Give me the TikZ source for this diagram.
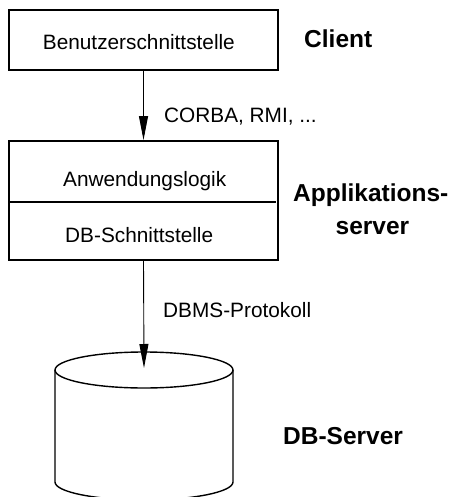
\documentclass[tikz,border=0pt]{standalone}
\usepackage{fontspec}
\setmainfont{Liberation Sans}
\usetikzlibrary{arrows.meta}
\tikzset{
  box/.style={draw, line width=1.8pt, minimum width=269pt, inner sep=0pt},
  lbl/.style={anchor=base west, inner sep=0pt, font=\fontsize{20.8}{24}\selectfont},
  tier/.style={anchor=base west, inner sep=0pt, font=\fontsize{24.5}{28}\selectfont\bfseries},
  conn/.style={line width=0.9pt, -{Triangle[length=24pt,width=9pt]}},
  cyl/.style={line width=1.4pt}
}
\begin{document}
\begin{tikzpicture}[x=1pt,y=-1pt]
\useasboundingbox (0,0) rectangle (452,497);
% client
\node[box, minimum height=60pt] (client) at (143.5,40) {};
\node[lbl] (clienttext) at (42.7,50) {Benutzerschnittstelle};
\node[tier] (clientlbl) at (304,47.7) {Client};
% application server
\node[box, minimum height=119pt] (app) at (143.5,200.5) {};
\coordinate (divl) at (9,202);
\coordinate (divr) at (276,202);
\draw[line width=1.8pt] (divl) -- (divr);
\node[lbl] (logic) at (63,186) {Anwendungslogik};
\node[lbl] (dbif) at (65,242.7) {DB-Schnittstelle};
\node[tier] (applbl1) at (293,201.5) {Applikations-};
\node[tier, anchor=base] (applbl2) at (372.5,234) {server};
% connector 1
\draw[conn] (client.south) -- (app.north);
\node[lbl] (corba) at (164,123) {CORBA, RMI, ...};
% DB cylinder
\coordinate (dbtop) at (144,368);
\draw[cyl] (55,370) -- (55,482) arc[start angle=180, end angle=360, x radius=89, y radius=-18] -- (233,370);
\draw[cyl] (144,370) ellipse[x radius=89, y radius=18];
\draw[conn] (app.south) -- (dbtop);
\node[lbl] (dbms) at (163,317) {DBMS-Protokoll};
\node[tier] (dblbl) at (283,444) {DB-Server};
\end{tikzpicture}
\end{document}
